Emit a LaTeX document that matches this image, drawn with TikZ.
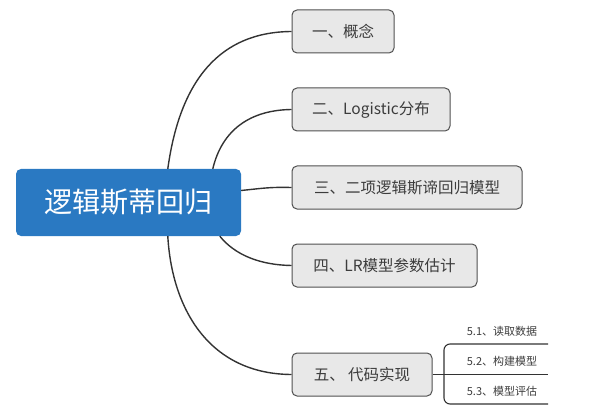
\documentclass[tikz,border=0pt]{standalone}
\usepackage{fontspec}
\setmainfont{Noto Sans CJK SC}
\definecolor{rootblue}{RGB}{42,121,194}
\definecolor{boxfill}{RGB}{232,232,232}
\definecolor{boxline}{RGB}{80,80,80}
\definecolor{txt}{RGB}{60,60,60}
\definecolor{wire}{RGB}{51,51,51}
\begin{document}
\begin{tikzpicture}[x=1pt,y=-1pt,
  rootbox/.style={fill=rootblue,rounded corners=5pt,text=white,font=\fontsize{28}{30}\selectfont,
    minimum width=225pt,minimum height=67pt,inner sep=0pt},
  topic/.style={draw=boxline,line width=1pt,fill=boxfill,rounded corners=5pt,text=txt,
    font=\fontsize{15.5}{18}\selectfont,minimum height=43pt,inner sep=0pt},
  sub/.style={text=txt,font=\fontsize{11}{13}\selectfont,inner sep=0pt},
  branch/.style={draw=wire,line width=1.4pt}]
\useasboundingbox (0,0) rectangle (600,417);

% central topic
\node[rootbox] (root) at (128.5,202.5) {逻辑斯蒂回归};

% main topics
\node[topic,minimum width=102pt] (c1) at (343,31.5) {一、概念};
\node[topic,minimum width=158pt] (c2) at (371,109.5) {二、Logistic分布};
\node[topic,minimum width=230pt] (c3) at (407,187.5) {三、二项逻辑斯谛回归模型};
\node[topic,minimum width=185pt] (c4) at (384.5,265.5) {四、LR模型参数估计};
\node[topic,minimum width=140pt] (c5) at (362,374.5) {五、 代码实现};

% branches from the central topic
\draw[branch] ([xshift=152pt]root.north west) .. controls (180,80) and (220,32) .. (c1.west);
\draw[branch] ([xshift=197pt]root.north west) .. controls (222,130) and (250,110) .. (c2.west);
\draw[branch] ([yshift=12pt]root.east) .. controls (265,188) and (270,187) .. (c3.west);
\draw[branch] ([xshift=204pt]root.south west) .. controls (235,255) and (260,265) .. (c4.west);
\draw[branch] ([xshift=152pt]root.south west) .. controls (172,310) and (210,374) .. (c5.west);

% subtopics of the code section
\coordinate (t1) at (548,344);
\coordinate (t2) at (548,374.5);
\coordinate (t3) at (548,404);
\draw[draw=wire,line width=1.1pt] (c5.east) -- (t2);
\draw[draw=wire,line width=1.1pt,rounded corners=6pt] (t1) -- (444,344) -- (444,404) -- (t3);
\node[sub] (s1) at (502,331) {5.1、读取数据};
\node[sub] (s2) at (502,361) {5.2、构建模型};
\node[sub] (s3) at (502,391) {5.3、模型评估};
\end{tikzpicture}
\end{document}
